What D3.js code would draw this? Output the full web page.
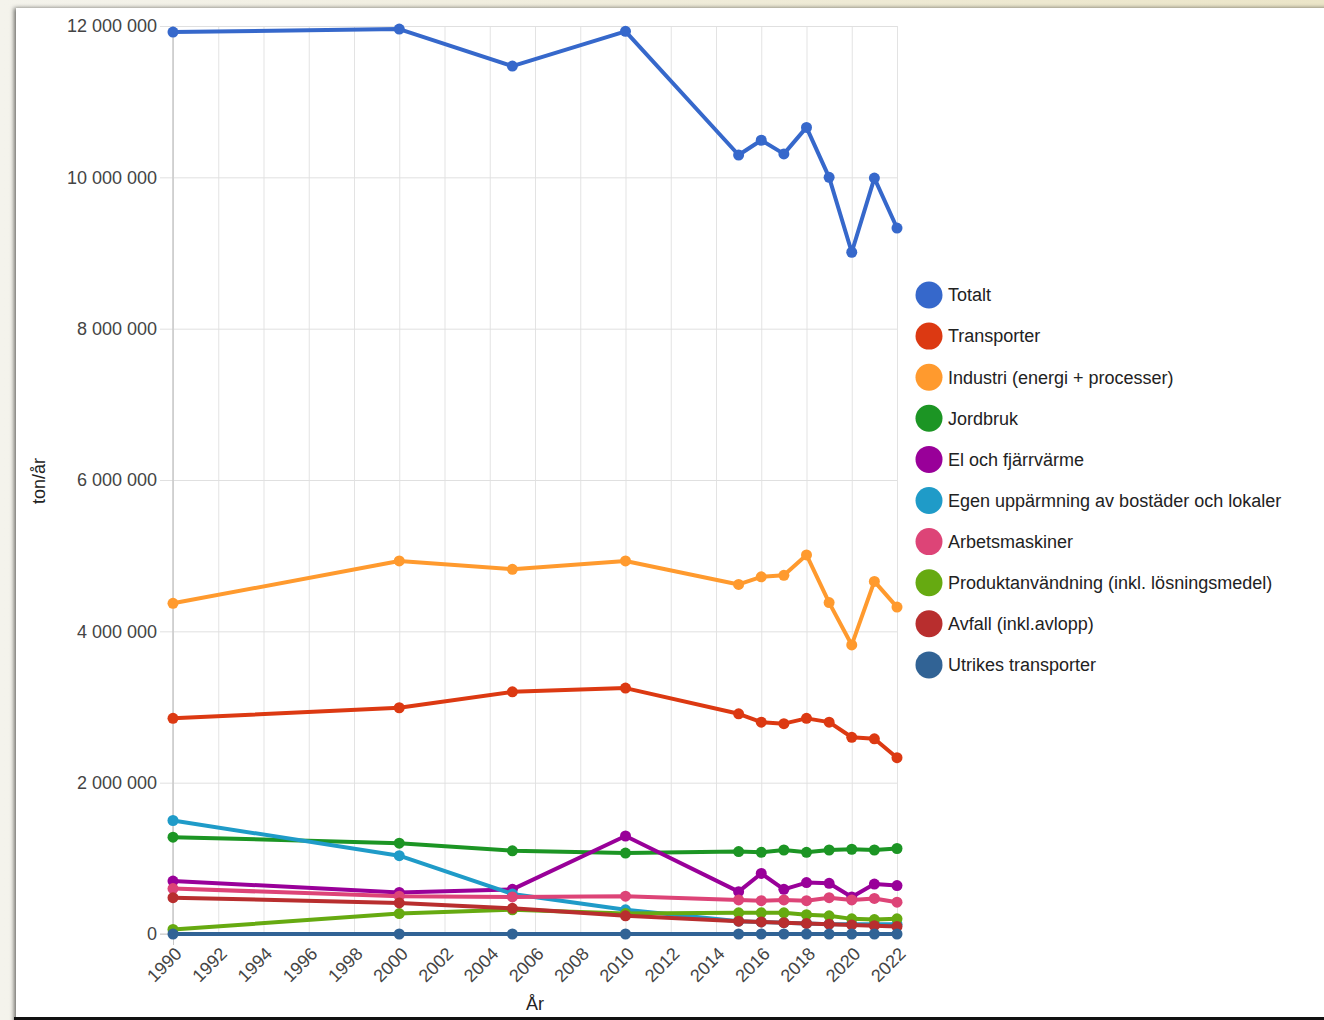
<!DOCTYPE html>
<html><head><meta charset="utf-8">
<script src="https://cdn.jsdelivr.net/npm/d3@7"></script>
<style>body{margin:0;background:#fff} svg{display:block}</style>
</head><body>
<svg id="c" width="1324" height="1020"></svg>
<script>
// ---- data ----
const years = [1990, 2000, 2005, 2010, 2015, 2016, 2017, 2018, 2019, 2020, 2021, 2022];
const totalt        = [11920000, 11960000, 11470000, 11930000, 10295000, 10490000, 10310000, 10660000, 10000000, 9010000, 9990000, 9330000];
const transporter   = [2850000, 2990000, 3200000, 3250000, 2910000, 2800000, 2780000, 2850000, 2800000, 2600000, 2580000, 2330000];
const industri      = [4370000, 4930000, 4820000, 4930000, 4620000, 4720000, 4740000, 5010000, 4380000, 3820000, 4660000, 4320000];
const jordbruk      = [1280000, 1200000, 1100000, 1070000, 1090000, 1080000, 1110000, 1080000, 1110000, 1120000, 1110000, 1130000];
const elFjarrvarme  = [700000, 550000, 590000, 1295000, 560000, 800000, 590000, 680000, 670000, 490000, 660000, 640000];
const egenUppvarm   = [1500000, 1035000, 530000, 320000, 170000, 160000, 150000, 140000, 130000, 130000, 130000, 130000];
const arbetsmaskiner= [600000, 500000, 490000, 500000, 450000, 440000, 450000, 440000, 480000, 450000, 470000, 420000];
const produktanv    = [60000, 270000, 320000, 270000, 280000, 280000, 280000, 255000, 240000, 200000, 190000, 200000];
const avfall        = [480000, 410000, 340000, 240000, 170000, 160000, 150000, 140000, 130000, 120000, 110000, 100000];
const utrikes       = [0, 0, 0, 0, 0, 0, 0, 0, 0, 0, 0, 0];

const seriesNames = ["Totalt", "Transporter", "Industri (energi + processer)", "Jordbruk", "El och fjärrvärme",
  "Egen uppärmning av bostäder och lokaler", "Arbetsmaskiner", "Produktanvändning (inkl. lösningsmedel)",
  "Avfall (inkl.avlopp)", "Utrikes transporter"];
const seriesValues = [totalt, transporter, industri, jordbruk, elFjarrvarme, egenUppvarm, arbetsmaskiner, produktanv, avfall, utrikes];
const seriesColors = ["#3668cb", "#dc3912", "#ff9a2e", "#1c9524", "#990099", "#1f9bc8", "#dd4477", "#66aa11", "#b82e2e", "#316395"];
const yTicks = [0, 2000000, 4000000, 6000000, 8000000, 10000000, 12000000];
const xTicks = d3.range(1990, 2023, 2);
const yTitle = "ton/år";
const xTitle = "År";

// ---- drawing ----
const svg = d3.select("#c");
const font = "'Liberation Sans', Arial, sans-serif";
const fs = 18;
const defs = svg.append("defs");
const g1 = defs.append("linearGradient").attr("id", "bg").attr("x1", 0).attr("x2", 1).attr("y1", 0).attr("y2", 0);
g1.append("stop").attr("offset", "0%").attr("stop-color", "#f4f3ec");
g1.append("stop").attr("offset", "100%").attr("stop-color", "#ebe5c8");
const f = defs.append("filter").attr("id", "sh").attr("x", "-5%").attr("y", "-5%").attr("width", "110%").attr("height", "110%");
f.append("feDropShadow").attr("dx", -2).attr("dy", 0).attr("stdDeviation", 2).attr("flood-color", "#000").attr("flood-opacity", 0.55);

svg.append("rect").attr("width", 1324).attr("height", 1020).attr("fill", "url(#bg)");
svg.append("rect").attr("x", 16).attr("y", 8).attr("width", 1320).attr("height", 1020).attr("fill", "#fff").attr("filter", "url(#sh)");
svg.append("rect").attr("x", 14).attr("y", 1017).attr("width", 1310).attr("height", 3).attr("fill", "#111");

const x = d3.scaleLinear().domain([1990, 2022]).range([173, 897]);
const y = d3.scaleLinear().domain([0, 12000000]).range([934, 26]);
const loc = d3.formatLocale({decimal: ",", thousands: " ", grouping: [3], currency: ["", ""]});
const fmt = loc.format(",d");

// vertical gridlines
const xAxis = d3.axisBottom(x).tickValues(xTicks).tickSize(-(934 - 26)).tickFormat("");
svg.append("g").attr("transform", "translate(0,934)").call(xAxis)
  .call(g => g.select(".domain").remove())
  .call(g => g.selectAll("line").attr("stroke", "#e3e3e3").attr("stroke-width", 1));
svg.append("g").attr("transform", "translate(0,934)")
  .call(d3.axisBottom(x).tickValues([1990]).tickSize(11).tickFormat(""))
  .call(g => g.select(".domain").remove())
  .call(g => g.selectAll("line").attr("stroke", "#c8c8c8"));

// horizontal gridlines + labels
const yAxis = d3.axisLeft(y).tickValues(yTicks).tickSize(-(897 - 160)).tickPadding(3).tickFormat(fmt);
const ya = svg.append("g").attr("transform", "translate(160,0)").call(yAxis);
ya.select(".domain").remove();
ya.selectAll("line").attr("stroke", "#e0e0e0");
ya.selectAll("text").attr("font-family", font).attr("font-size", fs).attr("fill", "#444").attr("x", -3);
svg.append("line").attr("x1", 173).attr("x2", 173).attr("y1", 26).attr("y2", 934).attr("stroke", "#c8c8c8").attr("stroke-width", 1.5);
svg.append("line").attr("x1", 160).attr("x2", 173).attr("y1", 934).attr("y2", 934).attr("stroke", "#c8c8c8");

// x tick labels rotated
svg.append("g").selectAll("text").data(xTicks).join("text")
  .attr("transform", d => `translate(${x(d) + 1},${946}) rotate(-45)`)
  .attr("text-anchor", "end").attr("dy", "0.7em")
  .attr("font-family", font).attr("font-size", fs).attr("fill", "#444")
  .text(d => d);

// axis titles
svg.append("text").attr("transform", "translate(45,481) rotate(-90)").attr("text-anchor", "middle")
  .attr("font-family", font).attr("font-size", fs).attr("fill", "#222").text(yTitle);
svg.append("text").attr("x", 535).attr("y", 1010).attr("text-anchor", "middle")
  .attr("font-family", font).attr("font-size", fs).attr("fill", "#222").text(xTitle);

// series
const line = d3.line().x(d => x(d[0])).y(d => y(d[1]));
seriesValues.forEach((vals, i) => {
  const pts = years.map((yr, j) => [yr, vals[j]]);
  const g = svg.append("g");
  g.append("path").attr("d", line(pts)).attr("fill", "none").attr("stroke", seriesColors[i])
    .attr("stroke-width", 4).attr("stroke-linejoin", "round");
  g.selectAll("circle").data(pts).join("circle")
    .attr("cx", d => x(d[0])).attr("cy", d => y(d[1])).attr("r", 5.5).attr("fill", seriesColors[i]);
});

// legend
const lg = svg.append("g").selectAll("g").data(seriesNames).join("g")
  .attr("transform", (d, i) => `translate(929,${295 + i * 41.1})`);
lg.append("circle").attr("r", 13.5).attr("fill", (d, i) => seriesColors[i]);
lg.append("text").attr("x", 19).attr("dy", "0.35em").attr("font-family", font).attr("font-size", fs)
  .attr("fill", "#222").text(d => d);
</script>
</body></html>
